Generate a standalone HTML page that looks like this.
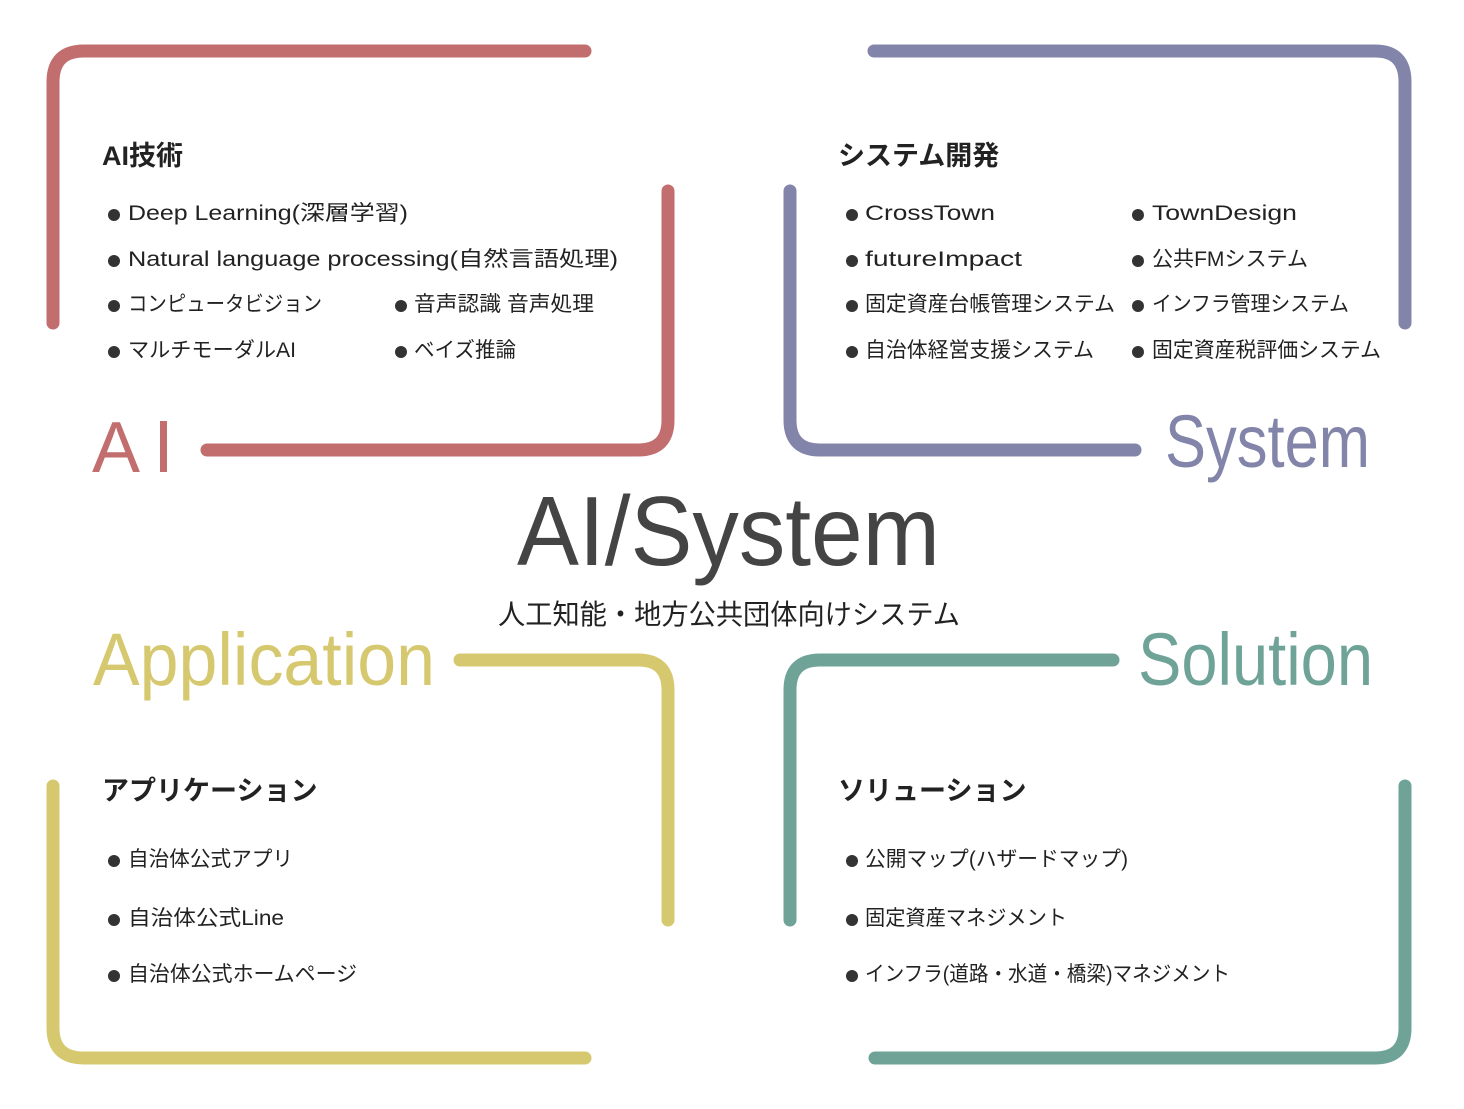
<!DOCTYPE html>
<html><head><meta charset="utf-8"><style>
html,body{margin:0;padding:0;background:#fff;}
svg{display:block;}
text{font-family:"Liberation Sans","Noto Sans CJK JP",sans-serif;}
.li{font-size:21px;fill:#222;}
.t{font-size:27px;font-weight:bold;fill:#222;}
circle{fill:#333;}
</style></head><body>
<svg width="1464" height="1109" viewBox="0 0 1464 1109" xmlns="http://www.w3.org/2000/svg">
<g fill="none" stroke-width="13" stroke-linecap="round">
<path d="M53,323 L53,82 Q53,51 84,51 L585,51" stroke="#c26e6e"/>
<path d="M668,191 L668,420 Q668,450 638,450 L207,450" stroke="#c26e6e"/>
<path d="M874,51 L1375,51 Q1405,51 1405,82 L1405,323" stroke="#8384a9"/>
<path d="M790,191 L790,420 Q790,450 820,450 L1135,450" stroke="#8384a9"/>
<path d="M460,660 L638,660 Q668,660 668,690 L668,920" stroke="#d6c86f"/>
<path d="M53,786 L53,1028 Q53,1058 84,1058 L585,1058" stroke="#d6c86f"/>
<path d="M1113,660 L820,660 Q790,660 790,690 L790,920" stroke="#6fa398"/>
<path d="M1405,786 L1405,1028 Q1405,1058 1375,1058 L875,1058" stroke="#6fa398"/>
</g>
<text x="92" y="472" font-size="72" fill="#c26e6e">A</text>
<rect x="160" y="421" width="7" height="51" fill="#c26e6e"/>
<text x="1165" y="467" font-size="74" fill="#8384a9" textLength="205" lengthAdjust="spacingAndGlyphs">System</text>
<text x="93" y="685" font-size="74" fill="#d6c86f" textLength="342" lengthAdjust="spacingAndGlyphs">Application</text>
<text x="1138" y="685" font-size="74" fill="#6fa398" textLength="235" lengthAdjust="spacingAndGlyphs">Solution</text>
<text x="517" y="565" font-size="98" fill="#444" textLength="423" lengthAdjust="spacingAndGlyphs">AI/System</text>
<text x="498" y="624" font-size="28" fill="#222" textLength="462" lengthAdjust="spacingAndGlyphs">人工知能・地方公共団体向けシステム</text>

<text class="t" x="102" y="165">AI技術</text>
<text class="t" x="838" y="165">システム開発</text>
<text class="t" x="102" y="800">アプリケーション</text>
<text class="t" x="838" y="800">ソリューション</text>

<g>
<circle cx="114" cy="215" r="6"/><text class="li" x="128" y="220" textLength="280" lengthAdjust="spacingAndGlyphs">Deep Learning(深層学習)</text>
<circle cx="114" cy="261" r="6"/><text class="li" x="128" y="266" textLength="490" lengthAdjust="spacingAndGlyphs">Natural language processing(自然言語処理)</text>
<circle cx="114" cy="306" r="6"/><text class="li" x="128" y="311" textLength="194" lengthAdjust="spacingAndGlyphs">コンピュータビジョン</text>
<circle cx="401" cy="306" r="6"/><text class="li" x="414" y="311" textLength="180" lengthAdjust="spacingAndGlyphs">音声認識 音声処理</text>
<circle cx="114" cy="352" r="6"/><text class="li" x="128" y="357" textLength="168" lengthAdjust="spacingAndGlyphs">マルチモーダルAI</text>
<circle cx="401" cy="352" r="6"/><text class="li" x="414" y="357" textLength="102" lengthAdjust="spacingAndGlyphs">ベイズ推論</text>

<circle cx="852" cy="215" r="6"/><text class="li" x="865" y="220" textLength="130" lengthAdjust="spacingAndGlyphs">CrossTown</text>
<circle cx="1138" cy="215" r="6"/><text class="li" x="1152" y="220" textLength="145" lengthAdjust="spacingAndGlyphs">TownDesign</text>
<circle cx="852" cy="261" r="6"/><text class="li" x="865" y="266" textLength="157" lengthAdjust="spacingAndGlyphs">futureImpact</text>
<circle cx="1138" cy="261" r="6"/><text class="li" x="1152" y="266" textLength="156" lengthAdjust="spacingAndGlyphs">公共FMシステム</text>
<circle cx="852" cy="306" r="6"/><text class="li" x="865" y="311" textLength="250" lengthAdjust="spacingAndGlyphs">固定資産台帳管理システム</text>
<circle cx="1138" cy="306" r="6"/><text class="li" x="1152" y="311" textLength="197" lengthAdjust="spacingAndGlyphs">インフラ管理システム</text>
<circle cx="852" cy="352" r="6"/><text class="li" x="865" y="357" textLength="229" lengthAdjust="spacingAndGlyphs">自治体経営支援システム</text>
<circle cx="1138" cy="352" r="6"/><text class="li" x="1152" y="357" textLength="229" lengthAdjust="spacingAndGlyphs">固定資産税評価システム</text>

<circle cx="114" cy="861" r="6"/><text class="li" x="128" y="866" textLength="165" lengthAdjust="spacingAndGlyphs">自治体公式アプリ</text>
<circle cx="114" cy="920" r="6"/><text class="li" x="128" y="925" textLength="156" lengthAdjust="spacingAndGlyphs">自治体公式Line</text>
<circle cx="114" cy="976" r="6"/><text class="li" x="128" y="981" textLength="229" lengthAdjust="spacingAndGlyphs">自治体公式ホームページ</text>

<circle cx="852" cy="861" r="6"/><text class="li" x="865" y="866" textLength="263" lengthAdjust="spacingAndGlyphs">公開マップ(ハザードマップ)</text>
<circle cx="852" cy="920" r="6"/><text class="li" x="865" y="925" textLength="202" lengthAdjust="spacingAndGlyphs">固定資産マネジメント</text>
<circle cx="852" cy="976" r="6"/><text class="li" x="865" y="981" textLength="365" lengthAdjust="spacingAndGlyphs">インフラ(道路・水道・橋梁)マネジメント</text>
</g>
</svg>
</body></html>
